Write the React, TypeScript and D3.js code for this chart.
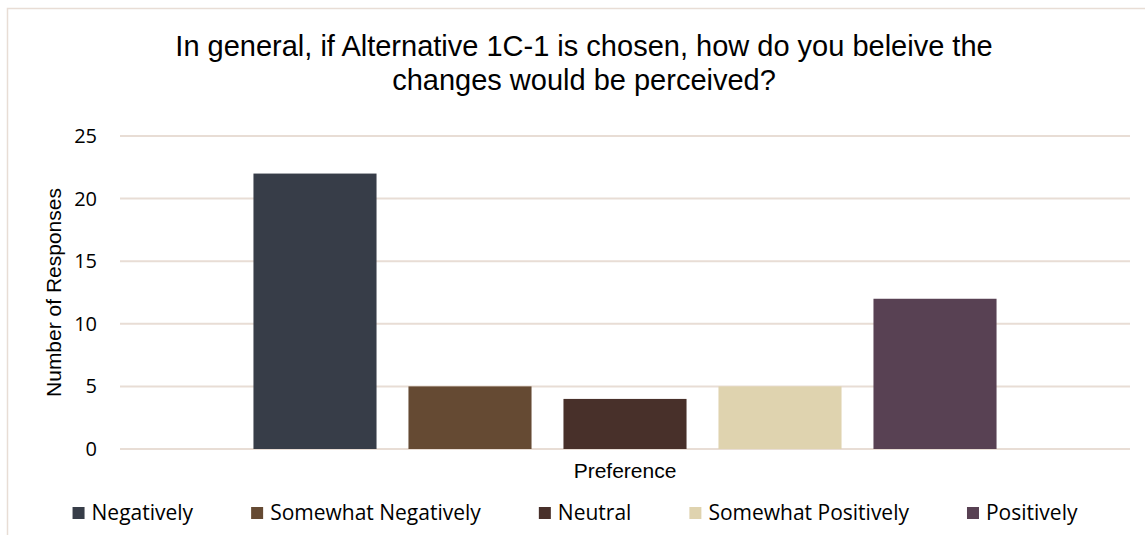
import React, { useEffect, useRef } from 'react';
import * as d3 from 'd3';

const title = ['In general, if Alternative 1C-1 is chosen, how do you beleive the', 'changes would be perceived?'];
const category = 'Preference';
const seriesNames = ['Negatively', 'Somewhat Negatively', 'Neutral', 'Somewhat Positively', 'Positively'];
const seriesValues = [22, 5, 4, 5, 12];
const seriesColors = ['#373d48', '#654a33', '#48302a', '#dfd3af', '#584153'];
const yTicks = [0, 5, 10, 15, 20, 25];
const yTitle = 'Number of Responses';

const W = 1145;
const H = 535;

const App: React.FC = () => {
  const ref = useRef<SVGSVGElement>(null);

  useEffect(() => {
    if (!ref.current) return;
    const svg = d3.select(ref.current);
    svg.selectAll('*').remove();

    const margin = { top: 136, right: 15, bottom: 86, left: 120 };
    const plotW = W - margin.left - margin.right;
    const plotH = H - margin.top - margin.bottom;

    // chart border (right and bottom edges fall outside the picture)
    svg.append('rect')
      .attr('x', 7.5).attr('y', 8.5)
      .attr('width', W + 10).attr('height', H + 10)
      .attr('fill', '#fff').attr('stroke', '#e8ddd5').attr('stroke-width', 1.5);

    svg.append('text')
      .attr('x', 585).attr('y', 56)
      .attr('text-anchor', 'middle')
      .style('font-family', '"Liberation Sans", Arial, sans-serif')
      .style('font-size', '29px')
      .attr('fill', '#000')
      .selectAll('tspan')
      .data(title)
      .join('tspan')
      .attr('x', 584)
      .attr('dy', (_, i) => (i === 0 ? 0 : 34))
      .text(d => d);

    const g = svg.append('g').attr('transform', `translate(${margin.left},${margin.top})`);

    const y = d3.scaleLinear().domain([0, 25]).range([plotH, 0]);
    const x0 = d3.scaleBand().domain([category]).range([0, plotW]).paddingInner(0).paddingOuter(0.1516);
    const x1 = d3.scaleBand().domain(seriesNames).range([0, x0.bandwidth()]).paddingInner(0.206).paddingOuter(0.103);

    // gridlines
    g.append('g')
      .selectAll('line')
      .data(yTicks)
      .join('line')
      .attr('x1', 0).attr('x2', plotW)
      .attr('y1', d => y(d)).attr('y2', d => y(d))
      .attr('stroke', '#e8ddd5').attr('stroke-width', 2);

    // y axis labels
    const yAxis = g.append('g')
      .call(d3.axisLeft(y).tickValues(yTicks).tickSize(0).tickPadding(23));
    yAxis.select('.domain').remove();
    yAxis.selectAll('text')
      .style('font-family', '"Open Sans", sans-serif')
      .style('font-size', '20px')
      .attr('fill', '#000');

    // bars
    const bars = g.append('g').attr('transform', `translate(${x0(category)},0)`);
    bars.selectAll('rect')
      .data(seriesNames.map((n, i) => ({ name: n, value: seriesValues[i], color: seriesColors[i] })))
      .join('rect')
      .attr('x', d => x1(d.name) as number)
      .attr('width', x1.bandwidth())
      .attr('y', d => y(d.value))
      .attr('height', d => plotH - y(d.value))
      .attr('fill', d => d.color);

    // axis titles
    g.append('text')
      .attr('x', (x0(category) as number) + x0.bandwidth() / 2)
      .attr('y', plotH + 29)
      .attr('text-anchor', 'middle')
      .style('font-family', '"Liberation Sans", Arial, sans-serif')
      .style('font-size', '21px')
      .text(category);

    svg.append('text')
      .attr('transform', `translate(61,${margin.top + plotH / 2}) rotate(-90)`)
      .attr('text-anchor', 'middle')
      .style('font-family', '"Liberation Sans", Arial, sans-serif')
      .style('font-size', '21px')
      .text(yTitle);

    // legend, laid out from measured text widths and centred
    const legend = svg.append('g');
    const items = legend.selectAll('g')
      .data(seriesNames.map((n, i) => ({ name: n, color: seriesColors[i] })))
      .join('g');
    items.append('rect')
      .attr('width', 12).attr('height', 12)
      .attr('y', -13)
      .attr('fill', d => d.color);
    const labels = items.append('text')
      .attr('x', 19)
      .style('font-family', '"Open Sans", sans-serif')
      .style('font-size', '21px')
      .attr('fill', '#000')
      .text(d => d.name);
    const widths: number[] = [];
    labels.each(function () { widths.push(19 + (this as SVGTextElement).getComputedTextLength()); });
    const gap = 58;
    const total = d3.sum(widths) + gap * (widths.length - 1);
    let cx = 575 - total / 2;
    items.attr('transform', (_, i) => {
      const t = `translate(${cx},${520})`;
      cx += widths[i] + gap;
      return t;
    });
  }, []);

  return (
    <svg
      ref={ref}
      width={W}
      height={H}
      style={{ position: 'absolute', left: 0, top: 0, background: '#fff' }}
    />
  );
};

export default App;
